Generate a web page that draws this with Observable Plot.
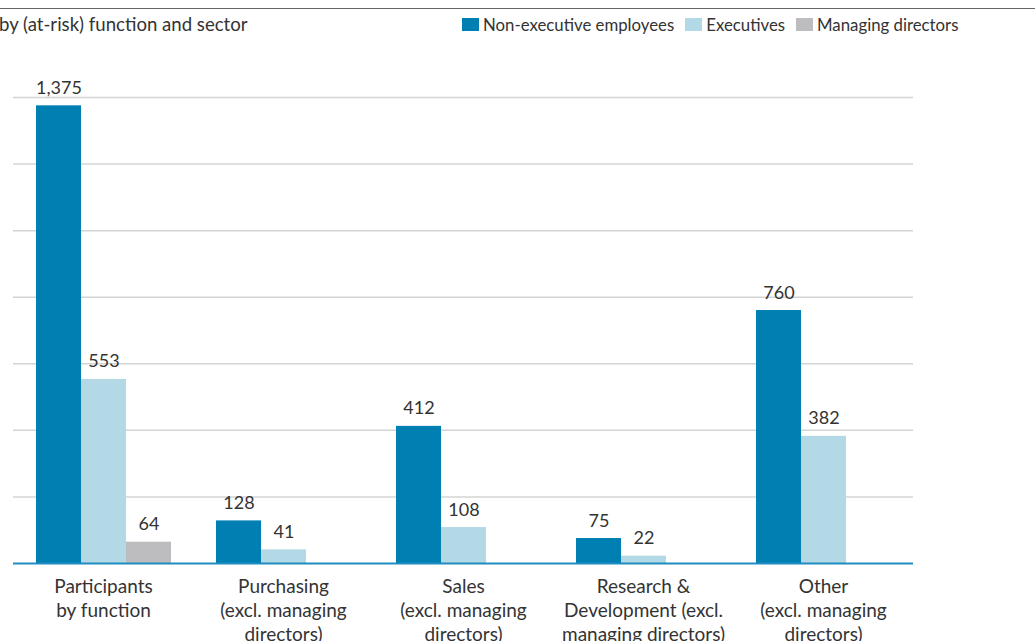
<!DOCTYPE html>
<html>
<head>
<meta charset="utf-8">
<script src="https://cdn.jsdelivr.net/npm/d3@7"></script>
<script src="https://cdn.jsdelivr.net/npm/@observablehq/plot@0.6"></script>
<style>
  html, body { margin: 0; padding: 0; background: #fff; overflow: hidden; }
  #wrap { position: relative; width: 1035px; height: 641px; font-family: Lato, "Open Sans", sans-serif; color: #333; }
  #topline { position: absolute; left: 0; top: 8px; width: 1035px; height: 0; border-top: 1.5px solid #666; }
  #title { position: absolute; left: -1px; top: 13px; font-size: 18.6px; white-space: nowrap; }
  #legend { position: absolute; left: 462px; top: 14px; font-size: 16.8px; white-space: nowrap; display: flex; align-items: center; }
  #legend .item { display: flex; align-items: center; margin-right: 11px; }
  #legend .sw { width: 17px; height: 13px; margin-right: 4px; }
  #chart { position: absolute; left: 0; top: 0; }
</style>
</head>
<body>
<div id="wrap">
  <div id="topline"></div>
  <div id="title"></div>
  <div id="legend"></div>
  <div id="chart"></div>
</div>
<script>
const title = "by (at-risk) function and sector";
const groups = [
  "Participants\nby function",
  "Purchasing\n(excl. managing\ndirectors)",
  "Sales\n(excl. managing\ndirectors)",
  "Research &\nDevelopment (excl.\nmanaging directors)",
  "Other\n(excl. managing\ndirectors)"
];
const series = ["Non-executive employees", "Executives", "Managing directors"];
const colors = ["#0080b2", "#b3d9e6", "#bdbdbf"];
const nonExecutive = [1375, 128, 412, 75, 760];
const executives = [553, 41, 108, 22, 382];
const managingDirectors = [64, null, null, null, null];
const yTicks = [0, 200, 400, 600, 800, 1000, 1200, 1400];

document.getElementById("title").textContent = title;
const legend = document.getElementById("legend");
series.forEach((s, i) => {
  const item = document.createElement("div");
  item.className = "item";
  const sw = document.createElement("div");
  sw.className = "sw";
  sw.style.background = colors[i];
  const t = document.createElement("span");
  t.textContent = s;
  item.appendChild(sw); item.appendChild(t);
  legend.appendChild(item);
});

const cols = [nonExecutive, executives, managingDirectors];
const table = [];
groups.forEach((g, gi) => {
  series.forEach((s, si) => {
    const v = cols[si][gi];
    if (v != null) table.push({group: g, series: s, value: v});
  });
});

const fmt = d3.format(",");
const chart = Plot.plot({
  width: 1035,
  height: 660,
  marginLeft: 11,
  marginRight: 121,
  marginTop: 97,
  marginBottom: 97,
  style: {fontFamily: "Lato, 'Open Sans', sans-serif", color: "#333", background: "transparent"},
  fx: {domain: groups, padding: 0, axis: null},
  x: {domain: series, paddingInner: 0, paddingOuter: 0.5, axis: null},
  y: {domain: [0, 1400], axis: null},
  color: {domain: series, range: colors},
  marks: [
    Plot.ruleY(yTicks.filter(d => d > 0), {stroke: "#d4d4d4", strokeWidth: 1.5}),
    Plot.barY(table, {fx: "group", x: "series", y: "value", fill: "series"}),
    Plot.ruleY([0], {stroke: "#1f8bbf", strokeWidth: 2}),
    Plot.text(table, {fx: "group", x: "series", y: "value", text: d => fmt(d.value), dy: -12, lineAnchor: "bottom", fontSize: 18, fill: "#333"}),
    Plot.text(groups, {fx: d => d, text: d => d, frameAnchor: "bottom", lineAnchor: "top", dy: 12, fontSize: 19, lineHeight: 1.27, fill: "#333"})
  ]
});
document.getElementById("chart").appendChild(chart);
</script>
</body>
</html>
